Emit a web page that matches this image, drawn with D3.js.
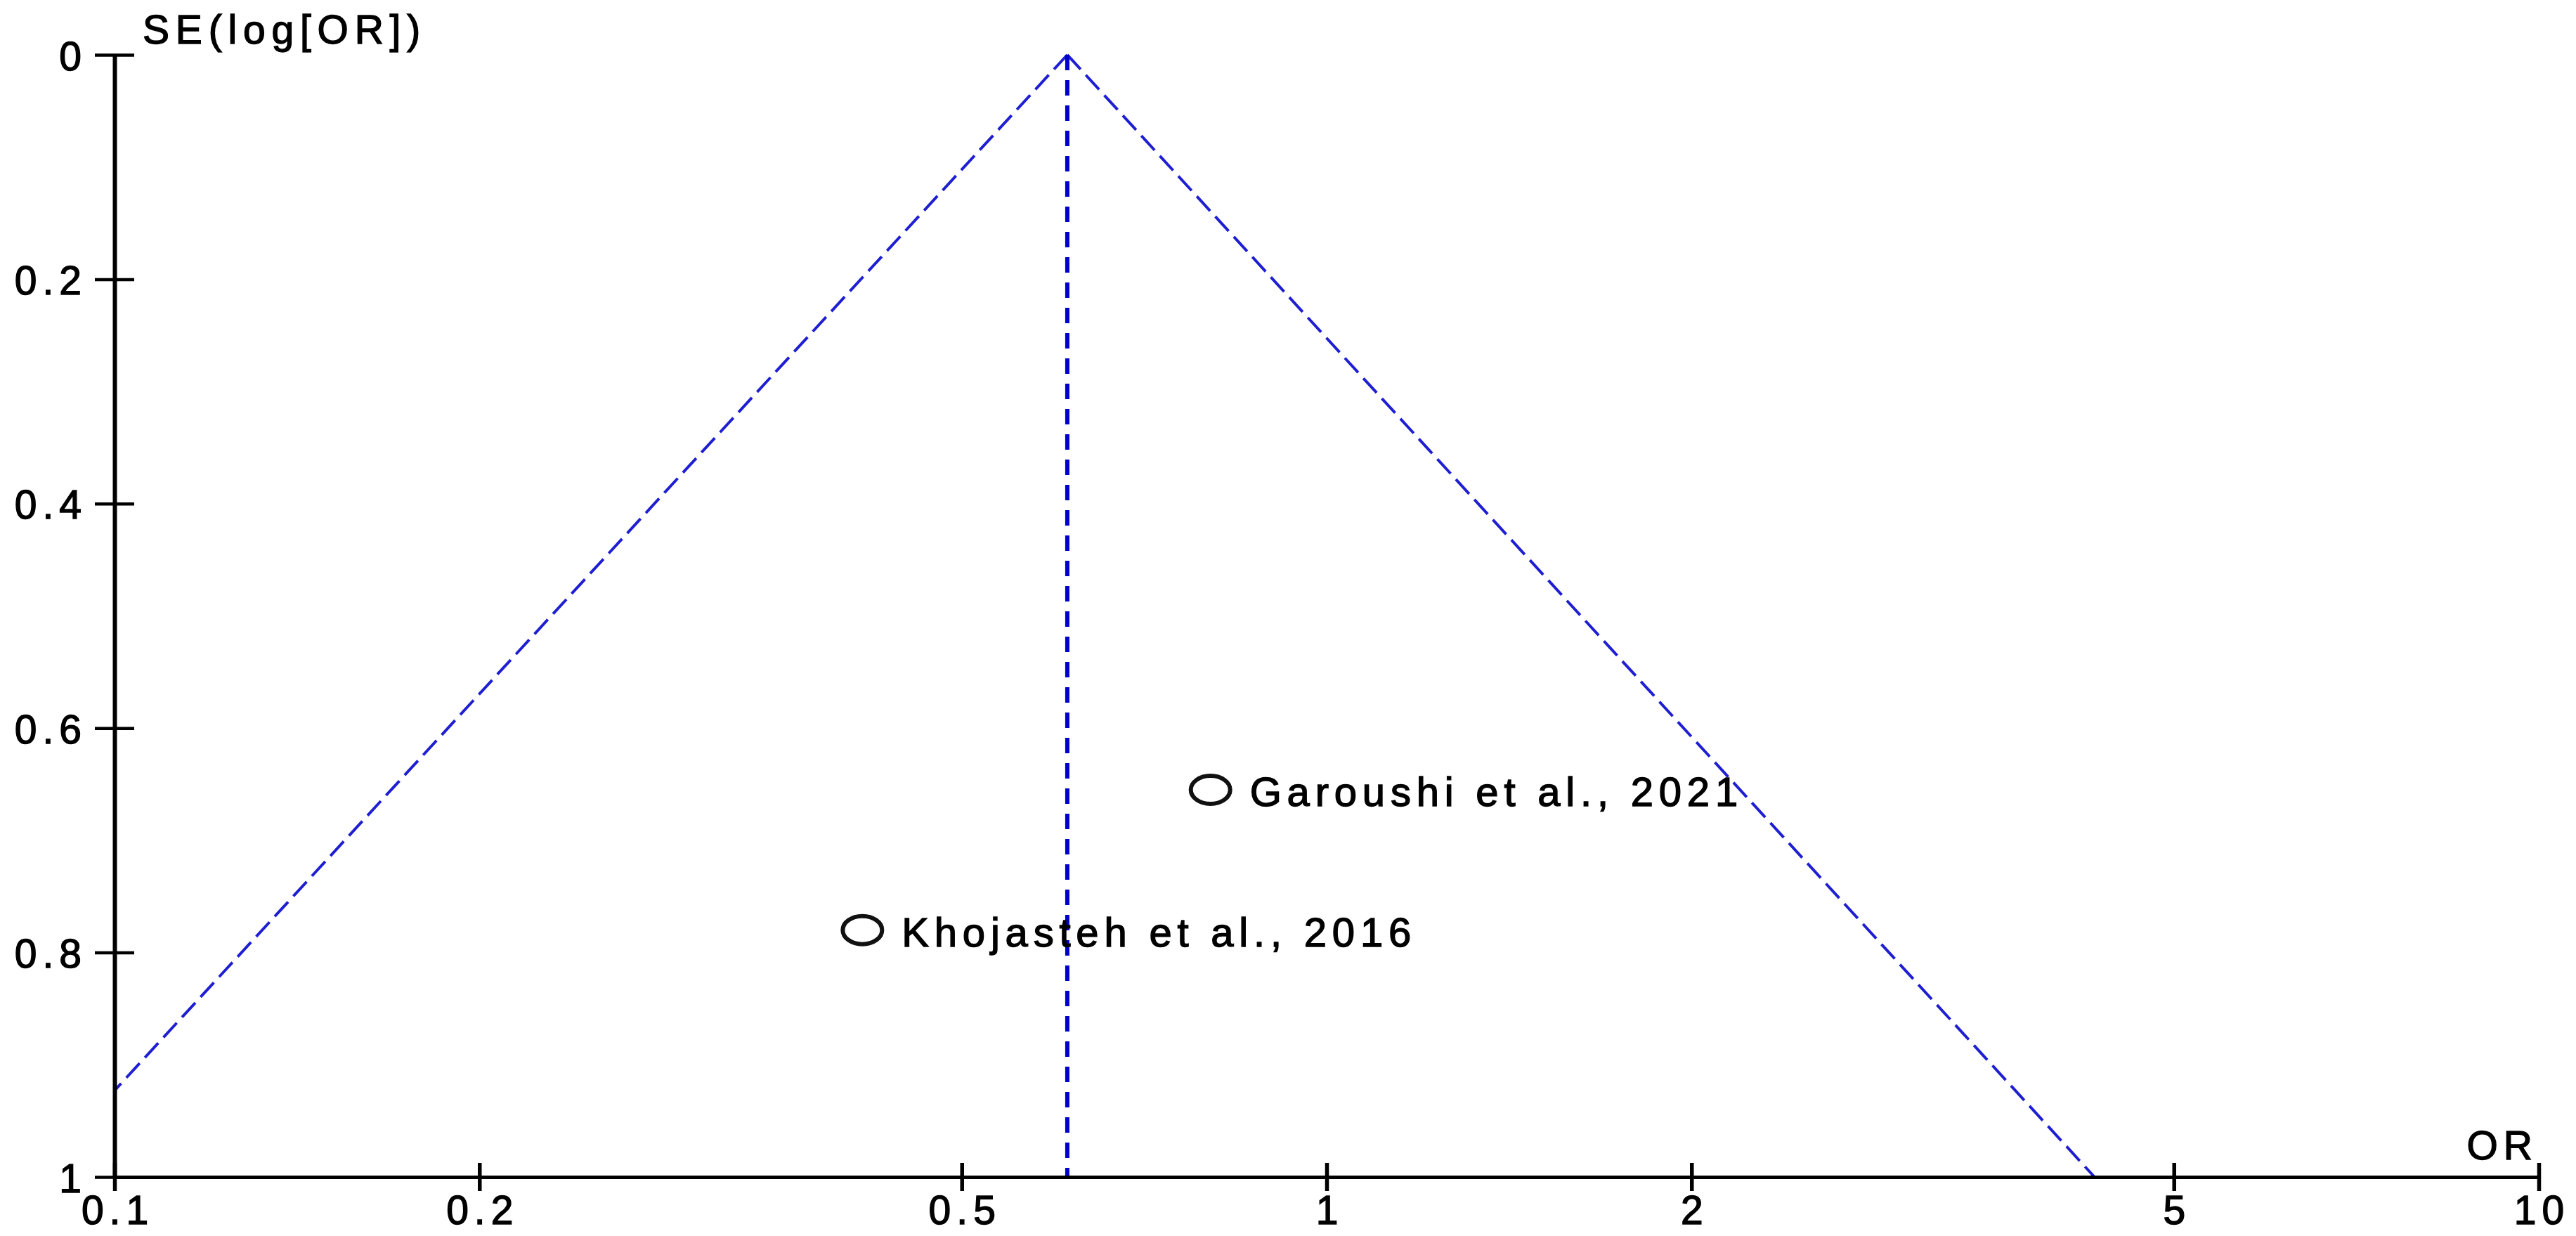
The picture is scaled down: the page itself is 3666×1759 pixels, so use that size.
<!DOCTYPE html>
<html>
<head>
<meta charset="utf-8">
<script src="https://cdn.jsdelivr.net/npm/d3@7"></script>
<style>
  html, body { margin: 0; padding: 0; background: #fff; }
  svg { display: block; }
</style>
</head>
<body>
<svg id="chart" width="3666" height="1759"></svg>
<script>
// ---- data ----
const studyNames = ["Khojasteh et al., 2016", "Garoushi et al., 2021"];
const studyOR = [0.414, 0.802];
const studySE = [0.780, 0.655];
const pooledOR = 0.611;
const funnelLeft = [0.1, 0.923];   // [OR, SE] where the left funnel line meets the frame
const funnelRight = [4.30, 1.0];   // [OR, SE] where the right funnel line meets the frame
const xTicks = [0.1, 0.2, 0.5, 1, 2, 5, 10];
const xTickLabels = ["0.1", "0.2", "0.5", "1", "2", "5", "10"];
const yTicks = [0, 0.2, 0.4, 0.6, 0.8, 1];
const yTickLabels = ["0", "0.2", "0.4", "0.6", "0.8", "1"];
const xTitle = "OR";
const yTitle = "SE(log[OR])";

// ---- layout ----
const LS = 8; // letter spacing
const FS = 57;
const FONT = '"Liberation Sans", Arial, sans-serif';
const svg = d3.select("#chart");
const x = d3.scaleLog().domain([0.1, 10]).range([163, 3613]);
const y = d3.scaleLinear().domain([0, 1]).range([78, 1675]);

// funnel lines (two segments from the apex)
const line = d3.line().x(d => x(d[0])).y(d => y(d[1]));
[funnelLeft, funnelRight].forEach(end => {
  svg.append("path")
    .attr("d", line([[pooledOR, 0], end]))
    .attr("fill", "none")
    .attr("stroke", "#1e1ed2")
    .attr("stroke-width", 4)
    .attr("stroke-dasharray", "28,11");
});
// pooled estimate vertical line
svg.append("path")
  .attr("d", line([[pooledOR, 0], [pooledOR, 1]]))
  .attr("fill", "none")
  .attr("stroke", "#0000cc")
  .attr("stroke-width", 6)
  .attr("stroke-dasharray", "22,14");

// y axis: labels via d3.axisLeft, tick marks crossing the axis line
const gy = svg.append("g").attr("transform", `translate(${x(0.1)},0)`);
gy.call(d3.axisLeft(y).tickValues(yTicks).tickFormat((d, i) => yTickLabels[i]).tickSize(28).tickSizeOuter(0));
gy.select(".domain").attr("stroke", "#000").attr("stroke-width", 6);
gy.selectAll(".tick line")
  .attr("x1", -28).attr("x2", 28)
  .attr("stroke", "#000").attr("stroke-width", 4.5);
gy.selectAll(".tick text")
  .attr("x", -39).attr("dy", null).attr("y", 21)
  .style("font-size", FS + "px").style("letter-spacing", LS + "px")
  .attr("text-anchor", "end");

// x axis
const gx = svg.append("g").attr("transform", `translate(0,${y(1)})`);
gx.call(d3.axisBottom(x).tickValues(xTicks).tickFormat((d, i) => xTickLabels[i]).tickSize(20).tickSizeOuter(0));
gx.select(".domain").attr("stroke", "#000").attr("stroke-width", 5);
gx.selectAll(".tick line")
  .attr("y1", -20).attr("y2", 20)
  .attr("stroke", "#000").attr("stroke-width", 5.5);
gx.selectAll(".tick text")
  .attr("y", 67).attr("dy", null).attr("x", LS / 2)
  .style("font-size", FS + "px").style("letter-spacing", LS + "px");

// axis titles
svg.append("text").attr("x", 203).attr("y", 62)
  .style("font-size", FS + "px").style("letter-spacing", (LS + 0.8) + "px")
  .text(yTitle);
svg.append("text").attr("x", x(10) - 9 + LS).attr("y", 1650)
  .attr("text-anchor", "end")
  .style("font-size", FS + "px").style("letter-spacing", LS + "px")
  .text(xTitle);

// studies
const studies = studyNames.map((n, i) => ({ name: n, or: studyOR[i], se: studySE[i] }));
const gs = svg.append("g");
gs.selectAll("ellipse").data(studies).join("ellipse")
  .attr("cx", d => x(d.or)).attr("cy", d => y(d.se))
  .attr("rx", 28).attr("ry", 20)
  .attr("fill", "none").attr("stroke", "#111").attr("stroke-width", 6);
gs.selectAll("text").data(studies).join("text")
  .attr("x", d => x(d.or) + 56).attr("y", d => y(d.se) + 23)
  .style("font-size", "58px").style("letter-spacing", "7.8px")
  .text(d => d.name);

// common text styling (slightly heavier glyphs)
svg.selectAll("text")
  .attr("font-family", FONT)
  .attr("fill", "#000")
  .attr("stroke", "#000")
  .attr("stroke-width", 1.4);
</script>
</body>
</html>
